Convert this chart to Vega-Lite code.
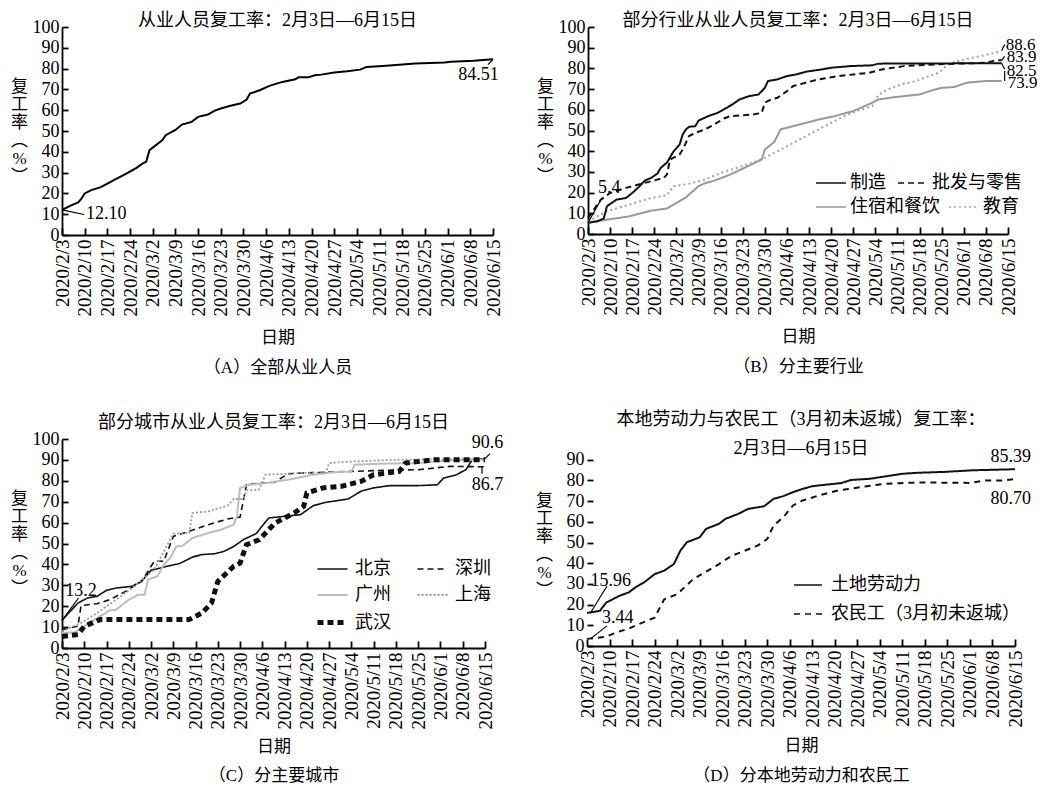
{
  "$schema": "https://vega.github.io/schema/vega-lite/v6.json",
  "background": "white",
  "padding": {"left": 10, "top": 12, "right": 0, "bottom": 0},
  "config": {
    "font": "'Liberation Serif', 'Noto Sans CJK SC', serif",
    "view": {"stroke": null},
    "axis": {
      "grid": false,
      "domainColor": "black",
      "domainWidth": 1.8,
      "tickColor": "black",
      "tickWidth": 1.8,
      "labelFont": "'Liberation Serif', 'Noto Sans CJK SC', serif",
      "labelFontSize": 18,
      "labelColor": "black",
      "titleFont": "'Liberation Serif', 'Noto Sans CJK SC', serif",
      "titleFontSize": 17,
      "titleFontWeight": "normal",
      "titleColor": "black"
    },
    "axisX": {"labelFontSize": 19},
    "title": {
      "font": "'Liberation Serif', 'Noto Sans CJK SC', serif",
      "fontSize": 18,
      "fontWeight": "normal",
      "color": "black",
      "frame": "group",
      "anchor": "middle"
    },
    "legend": {
      "labelFont": "'Liberation Serif', 'Noto Sans CJK SC', serif",
      "labelFontSize": 18,
      "labelColor": "black",
      "labelLimit": 400
    },
    "text": {"font": "'Liberation Serif', 'Noto Sans CJK SC', serif", "fontSize": 18, "color": "black"}
  },
  "datasets": {
    "a": [
      {"s": "全部", "d": "2020/2/3", "v": 12.1},
      {"s": "全部", "d": "2020/2/6", "v": 14.4},
      {"s": "全部", "d": "2020/2/8", "v": 15.7},
      {"s": "全部", "d": "2020/2/9", "v": 17.5},
      {"s": "全部", "d": "2020/2/10", "v": 20.0},
      {"s": "全部", "d": "2020/2/12", "v": 21.6},
      {"s": "全部", "d": "2020/2/15", "v": 23.0},
      {"s": "全部", "d": "2020/2/19", "v": 26.4},
      {"s": "全部", "d": "2020/2/23", "v": 29.6},
      {"s": "全部", "d": "2020/2/26", "v": 32.3},
      {"s": "全部", "d": "2020/2/28", "v": 34.5},
      {"s": "全部", "d": "2020/2/29", "v": 35.3},
      {"s": "全部", "d": "2020/3/1", "v": 40.8},
      {"s": "全部", "d": "2020/3/5", "v": 45.6},
      {"s": "全部", "d": "2020/3/6", "v": 48.0},
      {"s": "全部", "d": "2020/3/9", "v": 50.5},
      {"s": "全部", "d": "2020/3/11", "v": 53.1},
      {"s": "全部", "d": "2020/3/14", "v": 54.4},
      {"s": "全部", "d": "2020/3/16", "v": 56.8},
      {"s": "全部", "d": "2020/3/19", "v": 57.9},
      {"s": "全部", "d": "2020/3/21", "v": 59.7},
      {"s": "全部", "d": "2020/3/23", "v": 60.8},
      {"s": "全部", "d": "2020/3/26", "v": 62.1},
      {"s": "全部", "d": "2020/3/29", "v": 63.2},
      {"s": "全部", "d": "2020/3/31", "v": 65.1},
      {"s": "全部", "d": "2020/4/1", "v": 68.0},
      {"s": "全部", "d": "2020/4/4", "v": 69.6},
      {"s": "全部", "d": "2020/4/7", "v": 71.7},
      {"s": "全部", "d": "2020/4/11", "v": 73.6},
      {"s": "全部", "d": "2020/4/15", "v": 74.9},
      {"s": "全部", "d": "2020/4/16", "v": 75.8},
      {"s": "全部", "d": "2020/4/19", "v": 75.8},
      {"s": "全部", "d": "2020/4/21", "v": 76.8},
      {"s": "全部", "d": "2020/4/23", "v": 77.1},
      {"s": "全部", "d": "2020/4/27", "v": 78.1},
      {"s": "全部", "d": "2020/5/1", "v": 78.7},
      {"s": "全部", "d": "2020/5/5", "v": 79.5},
      {"s": "全部", "d": "2020/5/7", "v": 80.8},
      {"s": "全部", "d": "2020/5/12", "v": 81.3},
      {"s": "全部", "d": "2020/5/17", "v": 81.9},
      {"s": "全部", "d": "2020/5/22", "v": 82.5},
      {"s": "全部", "d": "2020/5/31", "v": 82.9},
      {"s": "全部", "d": "2020/6/2", "v": 83.3},
      {"s": "全部", "d": "2020/6/9", "v": 83.8},
      {"s": "全部", "d": "2020/6/15", "v": 84.51}
    ],
    "b": [
      {"s": "制造", "d": "2020/2/3", "v": 5.4},
      {"s": "制造", "d": "2020/2/6", "v": 6.2},
      {"s": "制造", "d": "2020/2/8", "v": 7.5},
      {"s": "制造", "d": "2020/2/9", "v": 13.4},
      {"s": "制造", "d": "2020/2/12", "v": 16.6},
      {"s": "制造", "d": "2020/2/15", "v": 17.4},
      {"s": "制造", "d": "2020/2/17", "v": 19.8},
      {"s": "制造", "d": "2020/2/19", "v": 22.6},
      {"s": "制造", "d": "2020/2/21", "v": 25.8},
      {"s": "制造", "d": "2020/2/23", "v": 27.1},
      {"s": "制造", "d": "2020/2/25", "v": 29.2},
      {"s": "制造", "d": "2020/2/26", "v": 31.9},
      {"s": "制造", "d": "2020/2/28", "v": 34.5},
      {"s": "制造", "d": "2020/3/1", "v": 39.7},
      {"s": "制造", "d": "2020/3/3", "v": 43.2},
      {"s": "制造", "d": "2020/3/4", "v": 48.1},
      {"s": "制造", "d": "2020/3/5", "v": 50.5},
      {"s": "制造", "d": "2020/3/6", "v": 51.8},
      {"s": "制造", "d": "2020/3/8", "v": 52.1},
      {"s": "制造", "d": "2020/3/9", "v": 54.8},
      {"s": "制造", "d": "2020/3/12", "v": 56.9},
      {"s": "制造", "d": "2020/3/15", "v": 58.5},
      {"s": "制造", "d": "2020/3/17", "v": 60.2},
      {"s": "制造", "d": "2020/3/18", "v": 61.0},
      {"s": "制造", "d": "2020/3/20", "v": 62.9},
      {"s": "制造", "d": "2020/3/22", "v": 65.0},
      {"s": "制造", "d": "2020/3/25", "v": 66.6},
      {"s": "制造", "d": "2020/3/28", "v": 67.4},
      {"s": "制造", "d": "2020/3/30", "v": 70.6},
      {"s": "制造", "d": "2020/3/31", "v": 73.9},
      {"s": "制造", "d": "2020/4/3", "v": 74.7},
      {"s": "制造", "d": "2020/4/6", "v": 76.3},
      {"s": "制造", "d": "2020/4/9", "v": 77.1},
      {"s": "制造", "d": "2020/4/12", "v": 78.4},
      {"s": "制造", "d": "2020/4/17", "v": 79.5},
      {"s": "制造", "d": "2020/4/20", "v": 80.3},
      {"s": "制造", "d": "2020/4/26", "v": 81.1},
      {"s": "制造", "d": "2020/5/3", "v": 81.5},
      {"s": "制造", "d": "2020/5/5", "v": 82.3},
      {"s": "制造", "d": "2020/5/23", "v": 82.4},
      {"s": "制造", "d": "2020/6/13", "v": 82.5},
      {"s": "批发与零售", "d": "2020/2/3", "v": 7.7},
      {"s": "批发与零售", "d": "2020/2/7", "v": 16.5},
      {"s": "批发与零售", "d": "2020/2/10", "v": 19.8},
      {"s": "批发与零售", "d": "2020/2/15", "v": 22.3},
      {"s": "批发与零售", "d": "2020/2/19", "v": 23.9},
      {"s": "批发与零售", "d": "2020/2/23", "v": 25.5},
      {"s": "批发与零售", "d": "2020/2/27", "v": 27.1},
      {"s": "批发与零售", "d": "2020/2/28", "v": 28.7},
      {"s": "批发与零售", "d": "2020/2/29", "v": 36.0},
      {"s": "批发与零售", "d": "2020/3/3", "v": 38.4},
      {"s": "批发与零售", "d": "2020/3/4", "v": 40.8},
      {"s": "批发与零售", "d": "2020/3/6", "v": 47.3},
      {"s": "批发与零售", "d": "2020/3/8", "v": 48.9},
      {"s": "批发与零售", "d": "2020/3/11", "v": 50.5},
      {"s": "批发与零售", "d": "2020/3/14", "v": 52.9},
      {"s": "批发与零售", "d": "2020/3/17", "v": 55.8},
      {"s": "批发与零售", "d": "2020/3/19", "v": 56.9},
      {"s": "批发与零售", "d": "2020/3/23", "v": 57.4},
      {"s": "批发与零售", "d": "2020/3/26", "v": 57.7},
      {"s": "批发与零售", "d": "2020/3/29", "v": 58.5},
      {"s": "批发与零售", "d": "2020/3/30", "v": 63.4},
      {"s": "批发与零售", "d": "2020/4/1", "v": 65.0},
      {"s": "批发与零售", "d": "2020/4/3", "v": 65.8},
      {"s": "批发与零售", "d": "2020/4/6", "v": 69.0},
      {"s": "批发与零售", "d": "2020/4/8", "v": 71.5},
      {"s": "批发与零售", "d": "2020/4/12", "v": 73.1},
      {"s": "批发与零售", "d": "2020/4/16", "v": 74.7},
      {"s": "批发与零售", "d": "2020/4/21", "v": 76.0},
      {"s": "批发与零售", "d": "2020/4/27", "v": 77.1},
      {"s": "批发与零售", "d": "2020/5/2", "v": 77.9},
      {"s": "批发与零售", "d": "2020/5/6", "v": 79.5},
      {"s": "批发与零售", "d": "2020/5/13", "v": 81.1},
      {"s": "批发与零售", "d": "2020/5/23", "v": 81.9},
      {"s": "批发与零售", "d": "2020/5/30", "v": 82.3},
      {"s": "批发与零售", "d": "2020/6/8", "v": 82.7},
      {"s": "批发与零售", "d": "2020/6/11", "v": 83.9},
      {"s": "批发与零售", "d": "2020/6/13", "v": 83.9},
      {"s": "住宿和餐饮", "d": "2020/2/3", "v": 5.4},
      {"s": "住宿和餐饮", "d": "2020/2/9", "v": 6.9},
      {"s": "住宿和餐饮", "d": "2020/2/16", "v": 8.5},
      {"s": "住宿和餐饮", "d": "2020/2/23", "v": 11.3},
      {"s": "住宿和餐饮", "d": "2020/2/28", "v": 12.3},
      {"s": "住宿和餐饮", "d": "2020/3/2", "v": 15.0},
      {"s": "住宿和餐饮", "d": "2020/3/5", "v": 17.7},
      {"s": "住宿和餐饮", "d": "2020/3/9", "v": 23.1},
      {"s": "住宿和餐饮", "d": "2020/3/11", "v": 24.5},
      {"s": "住宿和餐饮", "d": "2020/3/14", "v": 25.8},
      {"s": "住宿和餐饮", "d": "2020/3/19", "v": 28.7},
      {"s": "住宿和餐饮", "d": "2020/3/24", "v": 32.3},
      {"s": "住宿和餐饮", "d": "2020/3/29", "v": 36.0},
      {"s": "住宿和餐饮", "d": "2020/3/30", "v": 40.8},
      {"s": "住宿和餐饮", "d": "2020/4/2", "v": 44.5},
      {"s": "住宿和餐饮", "d": "2020/4/4", "v": 50.5},
      {"s": "住宿和餐饮", "d": "2020/4/10", "v": 52.9},
      {"s": "住宿和餐饮", "d": "2020/4/16", "v": 55.3},
      {"s": "住宿和餐饮", "d": "2020/4/21", "v": 56.9},
      {"s": "住宿和餐饮", "d": "2020/4/27", "v": 59.4},
      {"s": "住宿和餐饮", "d": "2020/5/3", "v": 63.4},
      {"s": "住宿和餐饮", "d": "2020/5/5", "v": 65.0},
      {"s": "住宿和餐饮", "d": "2020/5/10", "v": 66.1},
      {"s": "住宿和餐饮", "d": "2020/5/18", "v": 67.4},
      {"s": "住宿和餐饮", "d": "2020/5/22", "v": 69.4},
      {"s": "住宿和餐饮", "d": "2020/5/25", "v": 70.6},
      {"s": "住宿和餐饮", "d": "2020/5/29", "v": 71.0},
      {"s": "住宿和餐饮", "d": "2020/6/2", "v": 73.1},
      {"s": "住宿和餐饮", "d": "2020/6/8", "v": 73.9},
      {"s": "住宿和餐饮", "d": "2020/6/13", "v": 73.9},
      {"s": "教育", "d": "2020/2/3", "v": 6.1},
      {"s": "教育", "d": "2020/2/9", "v": 11.0},
      {"s": "教育", "d": "2020/2/16", "v": 14.2},
      {"s": "教育", "d": "2020/2/23", "v": 17.4},
      {"s": "教育", "d": "2020/2/28", "v": 18.7},
      {"s": "教育", "d": "2020/3/1", "v": 23.1},
      {"s": "教育", "d": "2020/3/5", "v": 23.9},
      {"s": "教育", "d": "2020/3/11", "v": 26.3},
      {"s": "教育", "d": "2020/3/16", "v": 29.5},
      {"s": "教育", "d": "2020/3/21", "v": 31.9},
      {"s": "教育", "d": "2020/3/26", "v": 34.4},
      {"s": "教育", "d": "2020/3/30", "v": 36.8},
      {"s": "教育", "d": "2020/4/5", "v": 41.6},
      {"s": "教育", "d": "2020/4/9", "v": 44.8},
      {"s": "教育", "d": "2020/4/13", "v": 48.1},
      {"s": "教育", "d": "2020/4/18", "v": 52.1},
      {"s": "教育", "d": "2020/4/23", "v": 56.1},
      {"s": "教育", "d": "2020/4/28", "v": 59.4},
      {"s": "教育", "d": "2020/5/3", "v": 61.8},
      {"s": "教育", "d": "2020/5/5", "v": 67.4},
      {"s": "教育", "d": "2020/5/9", "v": 70.6},
      {"s": "教育", "d": "2020/5/13", "v": 72.6},
      {"s": "教育", "d": "2020/5/17", "v": 73.9},
      {"s": "教育", "d": "2020/5/20", "v": 75.8},
      {"s": "教育", "d": "2020/5/24", "v": 77.9},
      {"s": "教育", "d": "2020/5/27", "v": 81.9},
      {"s": "教育", "d": "2020/5/30", "v": 83.5},
      {"s": "教育", "d": "2020/6/4", "v": 85.2},
      {"s": "教育", "d": "2020/6/8", "v": 86.5},
      {"s": "教育", "d": "2020/6/11", "v": 87.6},
      {"s": "教育", "d": "2020/6/13", "v": 88.6}
    ],
    "c": [
      {"s": "北京", "d": "2020/2/3", "v": 13.2},
      {"s": "北京", "d": "2020/2/8", "v": 21.5},
      {"s": "北京", "d": "2020/2/11", "v": 23.9},
      {"s": "北京", "d": "2020/2/14", "v": 24.7},
      {"s": "北京", "d": "2020/2/17", "v": 27.6},
      {"s": "北京", "d": "2020/2/20", "v": 28.7},
      {"s": "北京", "d": "2020/2/25", "v": 29.5},
      {"s": "北京", "d": "2020/2/28", "v": 31.9},
      {"s": "北京", "d": "2020/3/2", "v": 37.2},
      {"s": "北京", "d": "2020/3/7", "v": 39.1},
      {"s": "北京", "d": "2020/3/11", "v": 40.4},
      {"s": "北京", "d": "2020/3/15", "v": 43.5},
      {"s": "北京", "d": "2020/3/18", "v": 44.7},
      {"s": "北京", "d": "2020/3/22", "v": 45.1},
      {"s": "北京", "d": "2020/3/25", "v": 46.3},
      {"s": "北京", "d": "2020/3/28", "v": 48.6},
      {"s": "北京", "d": "2020/3/31", "v": 51.8},
      {"s": "北京", "d": "2020/4/4", "v": 54.7},
      {"s": "北京", "d": "2020/4/8", "v": 62.2},
      {"s": "北京", "d": "2020/4/13", "v": 63.0},
      {"s": "北京", "d": "2020/4/18", "v": 63.8},
      {"s": "北京", "d": "2020/4/22", "v": 68.1},
      {"s": "北京", "d": "2020/4/26", "v": 69.7},
      {"s": "北京", "d": "2020/5/3", "v": 71.3},
      {"s": "北京", "d": "2020/5/7", "v": 75.0},
      {"s": "北京", "d": "2020/5/11", "v": 76.6},
      {"s": "北京", "d": "2020/5/16", "v": 77.7},
      {"s": "北京", "d": "2020/5/25", "v": 77.7},
      {"s": "北京", "d": "2020/5/31", "v": 78.1},
      {"s": "北京", "d": "2020/6/2", "v": 81.3},
      {"s": "北京", "d": "2020/6/6", "v": 82.9},
      {"s": "北京", "d": "2020/6/9", "v": 85.3},
      {"s": "北京", "d": "2020/6/11", "v": 90.1},
      {"s": "北京", "d": "2020/6/15", "v": 90.6},
      {"s": "深圳", "d": "2020/2/3", "v": 8.8},
      {"s": "深圳", "d": "2020/2/8", "v": 10.4},
      {"s": "深圳", "d": "2020/2/9", "v": 20.3},
      {"s": "深圳", "d": "2020/2/14", "v": 21.2},
      {"s": "深圳", "d": "2020/2/18", "v": 23.1},
      {"s": "深圳", "d": "2020/2/23", "v": 27.1},
      {"s": "深圳", "d": "2020/2/28", "v": 31.9},
      {"s": "深圳", "d": "2020/3/3", "v": 41.5},
      {"s": "深圳", "d": "2020/3/6", "v": 41.5},
      {"s": "深圳", "d": "2020/3/9", "v": 53.4},
      {"s": "深圳", "d": "2020/3/14", "v": 55.8},
      {"s": "深圳", "d": "2020/3/20", "v": 59.0},
      {"s": "深圳", "d": "2020/3/26", "v": 61.7},
      {"s": "深圳", "d": "2020/3/30", "v": 62.7},
      {"s": "深圳", "d": "2020/4/1", "v": 78.1},
      {"s": "深圳", "d": "2020/4/5", "v": 78.9},
      {"s": "深圳", "d": "2020/4/10", "v": 79.3},
      {"s": "深圳", "d": "2020/4/14", "v": 83.4},
      {"s": "深圳", "d": "2020/4/24", "v": 84.0},
      {"s": "深圳", "d": "2020/5/4", "v": 84.5},
      {"s": "深圳", "d": "2020/5/14", "v": 85.0},
      {"s": "深圳", "d": "2020/5/25", "v": 85.3},
      {"s": "深圳", "d": "2020/6/4", "v": 86.9},
      {"s": "深圳", "d": "2020/6/15", "v": 86.7},
      {"s": "广州", "d": "2020/2/3", "v": 7.2},
      {"s": "广州", "d": "2020/2/7", "v": 7.5},
      {"s": "广州", "d": "2020/2/10", "v": 10.4},
      {"s": "广州", "d": "2020/2/15", "v": 15.2},
      {"s": "广州", "d": "2020/2/18", "v": 18.0},
      {"s": "广州", "d": "2020/2/20", "v": 18.3},
      {"s": "广州", "d": "2020/2/24", "v": 23.1},
      {"s": "广州", "d": "2020/2/27", "v": 25.5},
      {"s": "广州", "d": "2020/2/29", "v": 25.5},
      {"s": "广州", "d": "2020/3/1", "v": 32.7},
      {"s": "广州", "d": "2020/3/4", "v": 34.3},
      {"s": "广州", "d": "2020/3/6", "v": 39.9},
      {"s": "广州", "d": "2020/3/8", "v": 43.1},
      {"s": "广州", "d": "2020/3/10", "v": 48.6},
      {"s": "广州", "d": "2020/3/12", "v": 49.0},
      {"s": "广州", "d": "2020/3/15", "v": 52.6},
      {"s": "广州", "d": "2020/3/20", "v": 55.0},
      {"s": "广州", "d": "2020/3/24", "v": 56.6},
      {"s": "广州", "d": "2020/3/28", "v": 59.0},
      {"s": "广州", "d": "2020/3/29", "v": 63.0},
      {"s": "广州", "d": "2020/3/30", "v": 76.6},
      {"s": "广州", "d": "2020/4/2", "v": 78.1},
      {"s": "广州", "d": "2020/4/7", "v": 78.9},
      {"s": "广州", "d": "2020/4/14", "v": 80.5},
      {"s": "广州", "d": "2020/4/22", "v": 82.9},
      {"s": "广州", "d": "2020/4/28", "v": 84.0},
      {"s": "广州", "d": "2020/5/4", "v": 84.5},
      {"s": "广州", "d": "2020/5/5", "v": 87.7},
      {"s": "广州", "d": "2020/5/14", "v": 88.2},
      {"s": "广州", "d": "2020/5/25", "v": 88.5},
      {"s": "广州", "d": "2020/6/4", "v": 89.8},
      {"s": "广州", "d": "2020/6/15", "v": 90.1},
      {"s": "上海", "d": "2020/2/3", "v": 8.0},
      {"s": "上海", "d": "2020/2/9", "v": 12.0},
      {"s": "上海", "d": "2020/2/14", "v": 16.7},
      {"s": "上海", "d": "2020/2/20", "v": 23.1},
      {"s": "上海", "d": "2020/2/25", "v": 28.7},
      {"s": "上海", "d": "2020/3/3", "v": 37.5},
      {"s": "上海", "d": "2020/3/9", "v": 54.7},
      {"s": "上海", "d": "2020/3/14", "v": 55.0},
      {"s": "上海", "d": "2020/3/15", "v": 64.6},
      {"s": "上海", "d": "2020/3/20", "v": 65.4},
      {"s": "上海", "d": "2020/3/26", "v": 68.1},
      {"s": "上海", "d": "2020/3/28", "v": 71.3},
      {"s": "上海", "d": "2020/3/31", "v": 71.3},
      {"s": "上海", "d": "2020/4/1", "v": 75.4},
      {"s": "上海", "d": "2020/4/5", "v": 75.8},
      {"s": "上海", "d": "2020/4/7", "v": 82.9},
      {"s": "上海", "d": "2020/4/18", "v": 83.7},
      {"s": "上海", "d": "2020/4/26", "v": 84.0},
      {"s": "上海", "d": "2020/4/27", "v": 88.5},
      {"s": "上海", "d": "2020/5/5", "v": 89.3},
      {"s": "上海", "d": "2020/5/19", "v": 90.1},
      {"s": "上海", "d": "2020/6/15", "v": 90.4},
      {"s": "武汉", "d": "2020/2/3", "v": 5.5},
      {"s": "武汉", "d": "2020/2/8", "v": 6.4},
      {"s": "武汉", "d": "2020/2/10", "v": 10.4},
      {"s": "武汉", "d": "2020/2/15", "v": 13.6},
      {"s": "武汉", "d": "2020/3/14", "v": 13.6},
      {"s": "武汉", "d": "2020/3/18", "v": 16.7},
      {"s": "武汉", "d": "2020/3/21", "v": 21.5},
      {"s": "武汉", "d": "2020/3/23", "v": 31.9},
      {"s": "武汉", "d": "2020/3/28", "v": 39.1},
      {"s": "武汉", "d": "2020/3/30", "v": 40.7},
      {"s": "武汉", "d": "2020/4/1", "v": 49.4},
      {"s": "武汉", "d": "2020/4/5", "v": 51.8},
      {"s": "武汉", "d": "2020/4/10", "v": 59.8},
      {"s": "武汉", "d": "2020/4/16", "v": 64.6},
      {"s": "武汉", "d": "2020/4/19", "v": 67.8},
      {"s": "武汉", "d": "2020/4/20", "v": 74.2},
      {"s": "武汉", "d": "2020/4/25", "v": 76.6},
      {"s": "武汉", "d": "2020/5/1", "v": 77.4},
      {"s": "武汉", "d": "2020/5/7", "v": 79.7},
      {"s": "武汉", "d": "2020/5/11", "v": 82.9},
      {"s": "武汉", "d": "2020/5/19", "v": 84.5},
      {"s": "武汉", "d": "2020/5/21", "v": 88.5},
      {"s": "武汉", "d": "2020/5/30", "v": 90.1},
      {"s": "武汉", "d": "2020/6/15", "v": 90.1}
    ],
    "d": [
      {"s": "土地劳动力", "d": "2020/2/3", "v": 15.96},
      {"s": "土地劳动力", "d": "2020/2/7", "v": 17.0},
      {"s": "土地劳动力", "d": "2020/2/9", "v": 21.0},
      {"s": "土地劳动力", "d": "2020/2/13", "v": 24.2},
      {"s": "土地劳动力", "d": "2020/2/16", "v": 25.9},
      {"s": "土地劳动力", "d": "2020/2/18", "v": 28.3},
      {"s": "土地劳动力", "d": "2020/2/21", "v": 31.0},
      {"s": "土地劳动力", "d": "2020/2/24", "v": 34.7},
      {"s": "土地劳动力", "d": "2020/2/27", "v": 36.4},
      {"s": "土地劳动力", "d": "2020/3/1", "v": 39.6},
      {"s": "土地劳动力", "d": "2020/3/3", "v": 46.0},
      {"s": "土地劳动力", "d": "2020/3/5", "v": 50.1},
      {"s": "土地劳动力", "d": "2020/3/9", "v": 52.5},
      {"s": "土地劳动力", "d": "2020/3/11", "v": 56.6},
      {"s": "土地劳动力", "d": "2020/3/15", "v": 59.0},
      {"s": "土地劳动力", "d": "2020/3/17", "v": 61.4},
      {"s": "土地劳动力", "d": "2020/3/21", "v": 63.8},
      {"s": "土地劳动力", "d": "2020/3/24", "v": 66.2},
      {"s": "土地劳动力", "d": "2020/3/29", "v": 67.5},
      {"s": "土地劳动力", "d": "2020/4/1", "v": 71.1},
      {"s": "土地劳动力", "d": "2020/4/4", "v": 72.4},
      {"s": "土地劳动力", "d": "2020/4/7", "v": 74.3},
      {"s": "土地劳动力", "d": "2020/4/10", "v": 75.9},
      {"s": "土地劳动力", "d": "2020/4/13", "v": 77.2},
      {"s": "土地劳动力", "d": "2020/4/17", "v": 77.9},
      {"s": "土地劳动力", "d": "2020/4/22", "v": 78.7},
      {"s": "土地劳动力", "d": "2020/4/25", "v": 80.2},
      {"s": "土地劳动力", "d": "2020/5/1", "v": 80.8},
      {"s": "土地劳动力", "d": "2020/5/6", "v": 82.0},
      {"s": "土地劳动力", "d": "2020/5/11", "v": 83.2},
      {"s": "土地劳动力", "d": "2020/5/16", "v": 83.7},
      {"s": "土地劳动力", "d": "2020/5/24", "v": 84.1},
      {"s": "土地劳动力", "d": "2020/6/2", "v": 84.9},
      {"s": "土地劳动力", "d": "2020/6/15", "v": 85.39},
      {"s": "农民工（3月初未返城）", "d": "2020/2/3", "v": 3.44},
      {"s": "农民工（3月初未返城）", "d": "2020/2/9", "v": 4.5},
      {"s": "农民工（3月初未返城）", "d": "2020/2/12", "v": 6.5},
      {"s": "农民工（3月初未返城）", "d": "2020/2/16", "v": 8.4},
      {"s": "农民工（3月初未返城）", "d": "2020/2/19", "v": 10.5},
      {"s": "农民工（3月初未返城）", "d": "2020/2/24", "v": 13.7},
      {"s": "农民工（3月初未返城）", "d": "2020/2/27", "v": 22.6},
      {"s": "农民工（3月初未返城）", "d": "2020/3/2", "v": 25.0},
      {"s": "农民工（3月初未返城）", "d": "2020/3/7", "v": 32.3},
      {"s": "农民工（3月初未返城）", "d": "2020/3/11", "v": 35.9},
      {"s": "农民工（3月初未返城）", "d": "2020/3/15", "v": 39.6},
      {"s": "农民工（3月初未返城）", "d": "2020/3/19", "v": 43.6},
      {"s": "农民工（3月初未返城）", "d": "2020/3/23", "v": 46.0},
      {"s": "农民工（3月初未返城）", "d": "2020/3/27", "v": 48.5},
      {"s": "农民工（3月初未返城）", "d": "2020/3/30", "v": 51.7},
      {"s": "农民工（3月初未返城）", "d": "2020/4/1", "v": 58.2},
      {"s": "农民工（3月初未返城）", "d": "2020/4/4", "v": 62.2},
      {"s": "农民工（3月初未返城）", "d": "2020/4/7", "v": 67.9},
      {"s": "农民工（3月初未返城）", "d": "2020/4/10", "v": 70.3},
      {"s": "农民工（3月初未返城）", "d": "2020/4/15", "v": 72.7},
      {"s": "农民工（3月初未返城）", "d": "2020/4/21", "v": 75.1},
      {"s": "农民工（3月初未返城）", "d": "2020/4/30", "v": 77.2},
      {"s": "农民工（3月初未返城）", "d": "2020/5/6", "v": 78.4},
      {"s": "农民工（3月初未返城）", "d": "2020/5/16", "v": 79.0},
      {"s": "农民工（3月初未返城）", "d": "2020/6/1", "v": 78.8},
      {"s": "农民工（3月初未返城）", "d": "2020/6/6", "v": 80.0},
      {"s": "农民工（3月初未返城）", "d": "2020/6/11", "v": 79.9},
      {"s": "农民工（3月初未返城）", "d": "2020/6/15", "v": 80.7}
    ],
    "notes": [
      {"k": "a1", "d": "2020/2/3", "v": 12.1, "t": "12.10"},
      {"k": "a2", "d": "2020/6/15", "v": 84.51, "t": "84.51"},
      {"k": "b1", "d": "2020/2/3", "v": 5.4, "t": "5.4"},
      {"k": "b2", "d": "2020/6/13", "v": 88.6, "t": "88.6"},
      {"k": "b3", "d": "2020/6/13", "v": 83.9, "t": "83.9"},
      {"k": "b4", "d": "2020/6/13", "v": 82.5, "t": "82.5"},
      {"k": "b5", "d": "2020/6/13", "v": 73.9, "t": "73.9"},
      {"k": "c1", "d": "2020/2/3", "v": 13.2, "t": "13.2"},
      {"k": "c2", "d": "2020/6/15", "v": 90.6, "t": "90.6"},
      {"k": "c3", "d": "2020/6/15", "v": 86.7, "t": "86.7"},
      {"k": "d1", "d": "2020/2/3", "v": 15.96, "t": "15.96"},
      {"k": "d2", "d": "2020/2/3", "v": 3.44, "t": "3.44"},
      {"k": "d3", "d": "2020/6/15", "v": 85.39, "t": "85.39"},
      {"k": "d4", "d": "2020/6/15", "v": 80.7, "t": "80.70"}
    ]
  },
  "vconcat": [
    {
      "hconcat": [
        {
          "width": 431,
          "height": 208,
          "title": {"text": "从业人员复工率：2月3日—6月15日", "offset": -12},
          "encoding": {
            "x": {
              "field": "d", "type": "temporal",
              "scale": {"domain": [{"year": 2020, "month": 2, "date": 3}, {"year": 2020, "month": 6, "date": 15}]},
              "axis": {
                "values": [{"year": 2020, "month": 2, "date": 3}, {"year": 2020, "month": 2, "date": 10}, {"year": 2020, "month": 2, "date": 17}, {"year": 2020, "month": 2, "date": 24}, {"year": 2020, "month": 3, "date": 2}, {"year": 2020, "month": 3, "date": 9}, {"year": 2020, "month": 3, "date": 16}, {"year": 2020, "month": 3, "date": 23}, {"year": 2020, "month": 3, "date": 30}, {"year": 2020, "month": 4, "date": 6}, {"year": 2020, "month": 4, "date": 13}, {"year": 2020, "month": 4, "date": 20}, {"year": 2020, "month": 4, "date": 27}, {"year": 2020, "month": 5, "date": 4}, {"year": 2020, "month": 5, "date": 11}, {"year": 2020, "month": 5, "date": 18}, {"year": 2020, "month": 5, "date": 25}, {"year": 2020, "month": 6, "date": 1}, {"year": 2020, "month": 6, "date": 8}, {"year": 2020, "month": 6, "date": 15}],
                "format": "%Y/%-m/%-d", "labelAngle": 270, "labelOverlap": false, "labelFlush": false,
                "tickSize": -7, "labelPadding": 11,
                "title": ["日期", "（A）全部从业人员"], "titleLineHeight": 30, "titlePadding": 13
              }
            },
            "y": {
              "field": "v", "type": "quantitative",
              "scale": {"domain": [0, 100], "nice": false},
              "axis": {
                "values": [0, 10, 20, 30, 40, 50, 60, 70, 80, 90, 100],
                "tickSize": -6, "labelPadding": 9, "labelFlush": false,
                "title": ["复", "工", "率", "︵", "%", "︶"], "titleAngle": 0, "titleAlign": "center",
                "titleBaseline": "middle", "titleLineHeight": 18, "titleX": -43, "titleY": 59
              }
            }
          },
          "layer": [
            {"data": {"name": "a"}, "mark": {"type": "line", "color": "black", "strokeWidth": 2}},
            {"data": {"name": "notes"}, "transform": [{"filter": "datum.k === 'a1'"}], "mark": {"type": "text", "align": "left", "baseline": "middle", "dx": 24, "dy": 4.5}, "encoding": {"text": {"field": "t"}}},
            {"data": {"name": "notes"}, "transform": [{"filter": "datum.k === 'a1'"}], "mark": {"type": "rule", "color": "black", "strokeWidth": 1.2, "x2Offset": 22, "y2Offset": 4.7}, "encoding": {"x2": {"field": "d"}, "y2": {"field": "v"}}},
            {"data": {"name": "notes"}, "transform": [{"filter": "datum.k === 'a2'"}], "mark": {"type": "text", "align": "right", "baseline": "middle", "dx": 5.7, "dy": 16}, "encoding": {"text": {"field": "t"}}},
            {"data": {"name": "notes"}, "transform": [{"filter": "datum.k === 'a2'"}], "mark": {"type": "rule", "color": "black", "strokeWidth": 1.2, "x2Offset": -5, "y2Offset": 5.4}, "encoding": {"x2": {"field": "d"}, "y2": {"field": "v"}}}
          ]
        },
        {
          "width": 420,
          "height": 207,
          "title": {"text": "部分行业从业人员复工率：2月3日—6月15日", "offset": -12},
          "resolve": {"scale": {"color": "independent", "strokeDash": "independent"}},
          "encoding": {
            "x": {
              "field": "d", "type": "temporal",
              "scale": {"domain": [{"year": 2020, "month": 2, "date": 3}, {"year": 2020, "month": 6, "date": 15}]},
              "axis": {
                "values": [{"year": 2020, "month": 2, "date": 3}, {"year": 2020, "month": 2, "date": 10}, {"year": 2020, "month": 2, "date": 17}, {"year": 2020, "month": 2, "date": 24}, {"year": 2020, "month": 3, "date": 2}, {"year": 2020, "month": 3, "date": 9}, {"year": 2020, "month": 3, "date": 16}, {"year": 2020, "month": 3, "date": 23}, {"year": 2020, "month": 3, "date": 30}, {"year": 2020, "month": 4, "date": 6}, {"year": 2020, "month": 4, "date": 13}, {"year": 2020, "month": 4, "date": 20}, {"year": 2020, "month": 4, "date": 27}, {"year": 2020, "month": 5, "date": 4}, {"year": 2020, "month": 5, "date": 11}, {"year": 2020, "month": 5, "date": 18}, {"year": 2020, "month": 5, "date": 25}, {"year": 2020, "month": 6, "date": 1}, {"year": 2020, "month": 6, "date": 8}, {"year": 2020, "month": 6, "date": 15}],
                "format": "%Y/%-m/%-d", "labelAngle": 270, "labelOverlap": false, "labelFlush": false,
                "tickSize": -7, "labelPadding": 11,
                "title": ["日期", "（B）分主要行业"], "titleLineHeight": 30, "titlePadding": 13
              }
            },
            "y": {
              "field": "v", "type": "quantitative",
              "scale": {"domain": [0, 100], "nice": false},
              "axis": {
                "values": [0, 10, 20, 30, 40, 50, 60, 70, 80, 90, 100],
                "tickSize": -6, "labelPadding": 9, "labelFlush": false,
                "title": ["复", "工", "率", "︵", "%", "︶"], "titleAngle": 0, "titleAlign": "center",
                "titleBaseline": "middle", "titleLineHeight": 18, "titleX": -43, "titleY": 59
              }
            }
          },
          "layer": [
            {
              "data": {"name": "b"},
              "transform": [{"filter": "datum.s === '住宿和餐饮' || datum.s === '教育'"}],
              "mark": {"type": "line", "strokeWidth": 2},
              "encoding": {
                "color": {"field": "s", "type": "nominal",
                  "scale": {"domain": ["住宿和餐饮", "教育"], "range": ["#999999", "#a3a3a3"]},
                  "legend": {"title": null, "orient": "none", "legendX": 227, "legendY": 164, "direction": "horizontal", "symbolType": "stroke", "symbolSize": 900, "labelOffset": 3, "columnPadding": 6}},
                "strokeDash": {"field": "s", "type": "nominal",
                  "scale": {"domain": ["住宿和餐饮", "教育"], "range": [[1, 0], [2, 3]]},
                  "legend": {"title": null, "orient": "none", "legendX": 227, "legendY": 164, "direction": "horizontal", "symbolType": "stroke", "symbolSize": 900, "labelOffset": 3, "columnPadding": 6}}
              }
            },
            {
              "data": {"name": "b"},
              "transform": [{"filter": "datum.s === '制造' || datum.s === '批发与零售'"}],
              "mark": {"type": "line", "strokeWidth": 2},
              "encoding": {
                "color": {"field": "s", "type": "nominal",
                  "scale": {"domain": ["制造", "批发与零售"], "range": ["#111111", "#111111"]},
                  "legend": {"title": null, "orient": "none", "legendX": 227, "legendY": 140, "direction": "horizontal", "symbolType": "stroke", "symbolSize": 900, "labelOffset": 3, "columnPadding": 9}},
                "strokeDash": {"field": "s", "type": "nominal",
                  "scale": {"domain": ["制造", "批发与零售"], "range": [[1, 0], [6, 4]]},
                  "legend": {"title": null, "orient": "none", "legendX": 227, "legendY": 140, "direction": "horizontal", "symbolType": "stroke", "symbolSize": 900, "labelOffset": 3, "columnPadding": 9}}
              }
            },
            {"data": {"name": "notes"}, "transform": [{"filter": "datum.k === 'b1'"}], "mark": {"type": "text", "align": "left", "baseline": "middle", "dx": 10, "dy": -35}, "encoding": {"text": {"field": "t"}}},
            {"data": {"name": "notes"}, "transform": [{"filter": "datum.k === 'b1'"}], "mark": {"type": "rule", "color": "black", "strokeWidth": 1.2, "x2Offset": 14, "y2Offset": -25}, "encoding": {"x2": {"field": "d"}, "y2": {"field": "v"}}},
            {"data": {"name": "notes"}, "transform": [{"filter": "datum.k === 'b2'"}], "mark": {"type": "text", "align": "left", "baseline": "middle", "fontSize": 17, "dx": 4, "dy": -6}, "encoding": {"text": {"field": "t"}}},
            {"data": {"name": "notes"}, "transform": [{"filter": "datum.k === 'b2'"}], "mark": {"type": "rule", "color": "black", "strokeWidth": 1.2, "x2Offset": 3, "y2Offset": -6}, "encoding": {"x2": {"field": "d"}, "y2": {"field": "v"}}},
            {"data": {"name": "notes"}, "transform": [{"filter": "datum.k === 'b3'"}], "mark": {"type": "text", "align": "left", "baseline": "middle", "fontSize": 17, "dx": 5, "dy": -3}, "encoding": {"text": {"field": "t"}}},
            {"data": {"name": "notes"}, "transform": [{"filter": "datum.k === 'b3'"}], "mark": {"type": "rule", "color": "black", "strokeWidth": 1.2, "x2Offset": 3, "y2Offset": -4}, "encoding": {"x2": {"field": "d"}, "y2": {"field": "v"}}},
            {"data": {"name": "notes"}, "transform": [{"filter": "datum.k === 'b4'"}], "mark": {"type": "text", "align": "left", "baseline": "middle", "fontSize": 17, "dx": 5, "dy": 8}, "encoding": {"text": {"field": "t"}}},
            {"data": {"name": "notes"}, "transform": [{"filter": "datum.k === 'b4'"}], "mark": {"type": "rule", "color": "black", "strokeWidth": 1.2, "x2Offset": 3, "y2Offset": 6}, "encoding": {"x2": {"field": "d"}, "y2": {"field": "v"}}},
            {"data": {"name": "notes"}, "transform": [{"filter": "datum.k === 'b5'"}], "mark": {"type": "text", "align": "left", "baseline": "middle", "fontSize": 17, "dx": 6, "dy": 2}, "encoding": {"text": {"field": "t"}}},
            {"data": {"name": "notes"}, "transform": [{"filter": "datum.k === 'b5'"}], "mark": {"type": "rule", "color": "black", "strokeWidth": 1.2, "xOffset": 3, "yOffset": -10, "x2Offset": 3, "y2Offset": 0}, "encoding": {"x2": {"field": "d"}, "y2": {"field": "v"}}}
          ]
        }
      ],
      "spacing": 33,
      "resolve": {"scale": {"x": "independent", "y": "independent", "color": "independent", "strokeDash": "independent", "strokeWidth": "independent"}}
    },
    {
      "hconcat": [
        {
          "width": 423,
          "height": 209,
          "title": {"text": "部分城市从业人员复工率：2月3日—6月15日", "offset": -2},
          "encoding": {
            "x": {
              "field": "d", "type": "temporal",
              "scale": {"domain": [{"year": 2020, "month": 2, "date": 3}, {"year": 2020, "month": 6, "date": 15}]},
              "axis": {
                "values": [{"year": 2020, "month": 2, "date": 3}, {"year": 2020, "month": 2, "date": 10}, {"year": 2020, "month": 2, "date": 17}, {"year": 2020, "month": 2, "date": 24}, {"year": 2020, "month": 3, "date": 2}, {"year": 2020, "month": 3, "date": 9}, {"year": 2020, "month": 3, "date": 16}, {"year": 2020, "month": 3, "date": 23}, {"year": 2020, "month": 3, "date": 30}, {"year": 2020, "month": 4, "date": 6}, {"year": 2020, "month": 4, "date": 13}, {"year": 2020, "month": 4, "date": 20}, {"year": 2020, "month": 4, "date": 27}, {"year": 2020, "month": 5, "date": 4}, {"year": 2020, "month": 5, "date": 11}, {"year": 2020, "month": 5, "date": 18}, {"year": 2020, "month": 5, "date": 25}, {"year": 2020, "month": 6, "date": 1}, {"year": 2020, "month": 6, "date": 8}, {"year": 2020, "month": 6, "date": 15}],
                "format": "%Y/%-m/%-d", "labelAngle": 270, "labelOverlap": false, "labelFlush": false,
                "tickSize": -7, "labelPadding": 11,
                "title": ["日期", "（C）分主要城市"], "titleLineHeight": 29, "titlePadding": 9
              }
            },
            "y": {
              "field": "v", "type": "quantitative",
              "scale": {"domain": [0, 100], "nice": false},
              "axis": {
                "values": [0, 10, 20, 30, 40, 50, 60, 70, 80, 90, 100],
                "tickSize": -6, "labelPadding": 9, "labelFlush": false,
                "title": ["复", "工", "率", "︵", "%", "︶"], "titleAngle": 0, "titleAlign": "center",
                "titleBaseline": "middle", "titleLineHeight": 18, "titleX": -43, "titleY": 59
              }
            }
          },
          "layer": [
            {
              "data": {"name": "c"},
              "mark": {"type": "line"},
              "encoding": {
                "color": {"field": "s", "type": "nominal",
                  "scale": {"domain": ["北京", "深圳", "广州", "上海", "武汉"], "range": ["#111111", "#111111", "#bdbdbd", "#9a9a9a", "#111111"]},
                  "legend": {"title": null, "orient": "none", "legendX": 253, "legendY": 114, "direction": "horizontal", "columns": 2, "symbolType": "stroke", "symbolSize": 900, "labelOffset": 5, "columnPadding": 22, "rowPadding": 1}},
                "strokeDash": {"field": "s", "type": "nominal",
                  "scale": {"domain": ["北京", "深圳", "广州", "上海", "武汉"], "range": [[1, 0], [6, 4], [1, 0], [2, 2], [6, 4]]},
                  "legend": {"title": null, "orient": "none", "legendX": 253, "legendY": 114, "direction": "horizontal", "columns": 2, "symbolType": "stroke", "symbolSize": 900, "labelOffset": 5, "columnPadding": 22, "rowPadding": 1}},
                "strokeWidth": {"field": "s", "type": "nominal",
                  "scale": {"type": "ordinal", "domain": ["北京", "深圳", "广州", "上海", "武汉"], "range": [1.6, 1.6, 2, 1.8, 5]},
                  "legend": {"title": null, "orient": "none", "legendX": 253, "legendY": 114, "direction": "horizontal", "columns": 2, "symbolType": "stroke", "symbolSize": 900, "labelOffset": 5, "columnPadding": 22, "rowPadding": 1}}
              }
            },
            {"data": {"name": "notes"}, "transform": [{"filter": "datum.k === 'c1'"}], "mark": {"type": "text", "align": "left", "baseline": "middle", "dx": 3.3, "dy": -29}, "encoding": {"text": {"field": "t"}}},
            {"data": {"name": "notes"}, "transform": [{"filter": "datum.k === 'c1'"}], "mark": {"type": "rule", "color": "black", "strokeWidth": 1.2, "x2Offset": 16.6, "y2Offset": -22.4}, "encoding": {"x2": {"field": "d"}, "y2": {"field": "v"}}},
            {"data": {"name": "notes"}, "transform": [{"filter": "datum.k === 'c2'"}], "mark": {"type": "text", "align": "center", "baseline": "middle", "dx": 2.5, "dy": -16}, "encoding": {"text": {"field": "t"}}},
            {"data": {"name": "notes"}, "transform": [{"filter": "datum.k === 'c2'"}], "mark": {"type": "rule", "color": "black", "strokeWidth": 1.2, "x2Offset": 5, "y2Offset": -5}, "encoding": {"x2": {"field": "d"}, "y2": {"field": "v"}}},
            {"data": {"name": "notes"}, "transform": [{"filter": "datum.k === 'c3'"}], "mark": {"type": "text", "align": "center", "baseline": "middle", "dx": 2.5, "dy": 18}, "encoding": {"text": {"field": "t"}}},
            {"data": {"name": "notes"}, "transform": [{"filter": "datum.k === 'c3'"}], "mark": {"type": "rule", "color": "black", "strokeWidth": 1.2, "xOffset": -3, "x2Offset": -3, "y2Offset": 7}, "encoding": {"x2": {"field": "d"}, "y2": {"field": "v"}}}
          ]
        },
        {
          "width": 428,
          "height": 207,
          "title": {"text": ["本地劳动力与农民工（3月初未返城）复工率：", "2月3日—6月15日"], "lineHeight": 29, "offset": -19},
          "encoding": {
            "x": {
              "field": "d", "type": "temporal",
              "scale": {"domain": [{"year": 2020, "month": 2, "date": 3}, {"year": 2020, "month": 6, "date": 15}]},
              "axis": {
                "values": [{"year": 2020, "month": 2, "date": 3}, {"year": 2020, "month": 2, "date": 10}, {"year": 2020, "month": 2, "date": 17}, {"year": 2020, "month": 2, "date": 24}, {"year": 2020, "month": 3, "date": 2}, {"year": 2020, "month": 3, "date": 9}, {"year": 2020, "month": 3, "date": 16}, {"year": 2020, "month": 3, "date": 23}, {"year": 2020, "month": 3, "date": 30}, {"year": 2020, "month": 4, "date": 6}, {"year": 2020, "month": 4, "date": 13}, {"year": 2020, "month": 4, "date": 20}, {"year": 2020, "month": 4, "date": 27}, {"year": 2020, "month": 5, "date": 4}, {"year": 2020, "month": 5, "date": 11}, {"year": 2020, "month": 5, "date": 18}, {"year": 2020, "month": 5, "date": 25}, {"year": 2020, "month": 6, "date": 1}, {"year": 2020, "month": 6, "date": 8}, {"year": 2020, "month": 6, "date": 15}],
                "format": "%Y/%-m/%-d", "labelAngle": 270, "labelOverlap": false, "labelFlush": false,
                "tickSize": -7, "labelPadding": 11,
                "title": ["日期", "（D）分本地劳动力和农民工"], "titleLineHeight": 30, "titlePadding": 10
              }
            },
            "y": {
              "field": "v", "type": "quantitative",
              "scale": {"domain": [0, 100], "nice": false},
              "axis": {
                "values": [0, 10, 20, 30, 40, 50, 60, 70, 80, 90],
                "domain": false,
                "tickSize": -6, "labelPadding": 9, "labelFlush": false,
                "title": ["复", "工", "率", "︵", "%", "︶"], "titleAngle": 0, "titleAlign": "center",
                "titleBaseline": "middle", "titleLineHeight": 18, "titleX": -43, "titleY": 61
              }
            }
          },
          "layer": [
            {
              "data": {"values": [{}]},
              "mark": {"type": "rule", "color": "black", "strokeWidth": 1.8},
              "encoding": {
                "x": {"datum": {"year": 2020, "month": 2, "date": 3}, "type": "temporal"},
                "y": {"datum": 0, "type": "quantitative"},
                "y2": {"datum": 90}
              }
            },
            {
              "data": {"name": "d"},
              "mark": {"type": "line", "strokeWidth": 2},
              "encoding": {
                "color": {"field": "s", "type": "nominal",
                  "scale": {"domain": ["土地劳动力", "农民工（3月初未返城）"], "range": ["#111111", "#111111"]},
                  "legend": {"title": null, "orient": "none", "legendX": 206, "legendY": 131, "columns": 1, "symbolType": "stroke", "symbolSize": 784, "labelOffset": 8, "rowPadding": 5}},
                "strokeDash": {"field": "s", "type": "nominal",
                  "scale": {"domain": ["土地劳动力", "农民工（3月初未返城）"], "range": [[1, 0], [6, 5]]},
                  "legend": {"title": null, "orient": "none", "legendX": 206, "legendY": 131, "columns": 1, "symbolType": "stroke", "symbolSize": 784, "labelOffset": 8, "rowPadding": 5}}
              }
            },
            {"data": {"name": "notes"}, "transform": [{"filter": "datum.k === 'd1'"}], "mark": {"type": "text", "align": "left", "baseline": "middle", "dx": 3.4, "dy": -32}, "encoding": {"text": {"field": "t"}}},
            {"data": {"name": "notes"}, "transform": [{"filter": "datum.k === 'd1'"}], "mark": {"type": "rule", "color": "black", "strokeWidth": 1.2, "xOffset": 3.4, "x2Offset": 20, "y2Offset": -27}, "encoding": {"x2": {"field": "d"}, "y2": {"field": "v"}}},
            {"data": {"name": "notes"}, "transform": [{"filter": "datum.k === 'd2'"}], "mark": {"type": "text", "align": "left", "baseline": "middle", "dx": 15, "dy": -21}, "encoding": {"text": {"field": "t"}}},
            {"data": {"name": "notes"}, "transform": [{"filter": "datum.k === 'd2'"}], "mark": {"type": "rule", "color": "black", "strokeWidth": 1.2, "xOffset": 3.4, "x2Offset": 20, "y2Offset": -13}, "encoding": {"x2": {"field": "d"}, "y2": {"field": "v"}}},
            {"data": {"name": "notes"}, "transform": [{"filter": "datum.k === 'd3'"}], "mark": {"type": "text", "align": "center", "baseline": "middle", "dx": -4.3, "dy": -12}, "encoding": {"text": {"field": "t"}}},
            {"data": {"name": "notes"}, "transform": [{"filter": "datum.k === 'd4'"}], "mark": {"type": "text", "align": "center", "baseline": "middle", "dx": -4.3, "dy": 20}, "encoding": {"text": {"field": "t"}}}
          ]
        }
      ],
      "spacing": 31,
      "resolve": {"scale": {"x": "independent", "y": "independent", "color": "independent", "strokeDash": "independent", "strokeWidth": "independent"}}
    }
  ],
  "spacing": 35,
  "resolve": {"scale": {"x": "independent", "y": "independent", "color": "independent", "strokeDash": "independent", "strokeWidth": "independent"}}
}
